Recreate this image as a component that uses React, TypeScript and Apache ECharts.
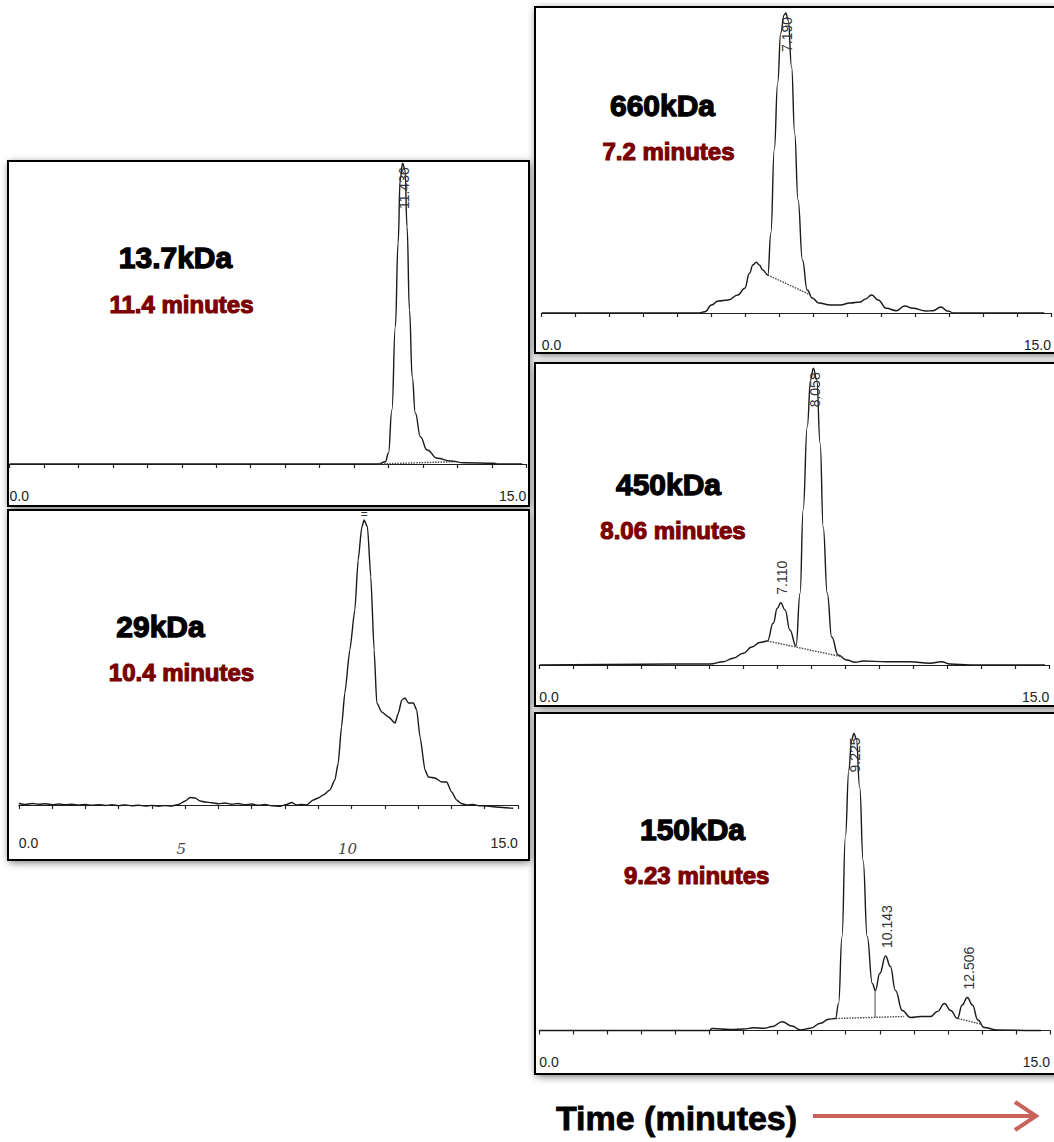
import React, { useEffect, useRef } from "react";
import * as echarts from "echarts";

// ---------------- data (time in minutes, signal in relative absorbance units) ----------------
const trace137: [number, number][] = [
  [0, 0], [10.71, 0], [10.91, 2.3], [11.0, 10.7], [11.1, 54], [11.2, 137], [11.28, 221], [11.34, 284],
  [11.41, 300.7], [11.48, 294], [11.54, 237], [11.61, 154], [11.69, 87], [11.78, 51], [11.93, 27],
  [12.12, 14], [12.42, 5.7], [12.8, 3], [13.19, 1.3], [14.07, 0.7], [14.17, 0], [14.88, 0],
];
const base137: [number, number][] = [[10.71, 0], [12.9, 2.3]];

const trace29: [number, number][] = [
  [0, 1.5], [0.2, 0.5], [0.4, 1.5], [0.6, 0.8], [0.8, 1.2], [1.0, 0.3], [1.2, 1.0], [1.4, 0.2], [1.6, 0.8],
  [1.8, -0.2], [2.0, 0.6], [2.2, -0.3], [2.4, 0.4], [2.6, -0.5], [2.8, 0.2], [3.0, -0.6], [3.2, 0], [3.4, -0.8],
  [3.6, -0.2], [3.8, -1.0], [4.0, -0.4], [4.2, -1.2], [4.4, -0.6], [4.6, -1.0], [4.8, 0.5], [5.0, 4], [5.15, 7.5],
  [5.3, 7], [5.45, 4], [5.6, 3], [5.8, 2.2], [6.0, 1.2], [6.2, 2], [6.4, 0.8], [6.6, 1.5], [6.8, 0.2], [7.0, 1],
  [7.2, -0.3], [7.4, 0.5], [7.6, -0.8], [7.85, -1.2], [8.05, 0.5], [8.2, 2.5], [8.35, 0], [8.5, 0.5], [8.65, 0],
  [8.85, 5], [9.0, 7], [9.15, 10], [9.35, 15], [9.5, 25], [9.6, 41.7], [9.7, 78], [9.8, 112], [9.95, 155],
  [10.1, 195], [10.2, 245], [10.31, 278], [10.38, 285], [10.48, 278], [10.58, 228], [10.68, 155], [10.76, 102],
  [10.91, 93], [11.11, 88], [11.31, 82], [11.41, 92], [11.51, 105], [11.61, 107], [11.71, 102], [11.86, 102],
  [11.96, 95], [12.06, 68], [12.21, 35], [12.31, 28], [12.51, 27], [12.71, 23], [12.86, 23], [13.01, 13],
  [13.16, 5], [13.3, 1.5], [13.46, 0], [13.65, 0.5], [13.85, -0.8], [14.06, -1], [14.25, -1.8], [14.45, -2.2],
  [14.65, -2.8], [14.86, -3.3],
];

const trace660: [number, number][] = [
  [0, 0], [4.61, 0], [4.81, 1.3], [5.0, 8], [5.2, 12], [5.49, 13], [5.78, 18], [5.98, 24.7], [6.12, 39.7],
  [6.22, 48], [6.32, 50.7], [6.41, 48], [6.51, 43], [6.66, 38], [6.75, 80], [6.85, 163], [6.95, 230],
  [7.04, 280], [7.14, 298], [7.19, 300], [7.26, 293], [7.36, 246], [7.45, 180], [7.55, 113], [7.68, 53],
  [7.82, 23], [7.97, 15], [8.16, 10], [8.5, 8], [8.79, 8], [9.08, 10], [9.38, 11], [9.52, 13.7], [9.72, 18],
  [9.91, 13], [10.15, 4.7], [10.45, 2.3], [10.69, 7], [10.93, 4.7], [11.32, 2], [11.52, 2.3], [11.76, 6],
  [11.95, 2], [12.15, 0], [14.8, 0],
];
const base660: [number, number][] = [[6.66, 38], [7.92, 18]];

const trace450: [number, number][] = [
  [0, 0], [5.02, 1], [5.41, 3.3], [5.7, 6.7], [6.0, 11.7], [6.25, 18], [6.49, 22.5], [6.71, 24], [6.88, 41.7],
  [7.0, 56.7], [7.1, 62.3], [7.23, 55], [7.37, 35], [7.55, 19], [7.67, 71.7], [7.76, 155], [7.88, 238],
  [7.98, 285], [8.06, 296.7], [8.16, 285], [8.26, 221.7], [8.35, 138], [8.47, 71.7], [8.6, 28], [8.79, 10],
  [9.04, 5], [9.29, 2.7], [9.53, 4], [10.22, 3.3], [10.9, 3.3], [11.49, 1.7], [11.83, 3.3], [12.08, 1],
  [12.67, 0], [14.87, 0],
];
const base450: [number, number][] = [[6.71, 24], [8.89, 8.3]];

const trace150: [number, number][] = [
  [0, 0], [5.0, 0], [5.07, 2], [5.61, 1], [6.0, 1.5], [6.3, 2.7], [6.6, 2.2], [6.85, 4], [7.13, 8.8],
  [7.42, 4.5], [7.67, 0.5], [7.96, 2.2], [8.26, 7.2], [8.5, 11.2], [8.7, 12], [8.79, 27], [8.89, 93.8],
  [8.99, 193.8], [9.09, 260], [9.17, 290], [9.24, 297], [9.31, 292], [9.41, 243], [9.51, 170], [9.63, 94],
  [9.78, 47], [9.87, 40], [10.0, 57], [10.17, 74.5], [10.31, 64], [10.46, 40], [10.66, 20], [10.9, 13],
  [11.2, 14], [11.49, 14], [11.69, 19], [11.9, 27], [12.08, 20], [12.28, 12], [12.42, 25.5], [12.57, 33],
  [12.72, 25.5], [12.88, 10.5], [13.06, 3], [13.45, 0.5], [14.53, 0], [14.73, 0],
];
const base150a: [number, number][] = [[8.71, 12], [10.71, 14]];
const drop150: [number, number][] = [[9.86, 40], [9.86, 13.15]];
const base150b: [number, number][] = [[12.3, 12], [12.96, 6.5]];

// peak retention-time tags
const tags137 = [{ t: 11.41, text: "11.436", inside: true }];
const tags29 = [{ t: 10.38, text: "=", inside: false }];
const tags660 = [{ t: 7.19, text: "7.190", inside: true }];
const tags450 = [
  { t: 7.1, text: "7.110", inside: false },
  { t: 8.06, text: "8.058", inside: true },
];
const tags150 = [
  { t: 9.24, text: "9.225", inside: true },
  { t: 10.17, text: "10.143", inside: false },
  { t: 12.57, text: "12.506", inside: false },
];

const massLabels = ["13.7kDa", "29kDa", "660kDa", "450kDa", "150kDa"];
const timeLabels = ["11.4 minutes", "10.4 minutes", "7.2 minutes", "8.06 minutes", "9.23 minutes"];
const xTickLabels: Record<number, string> = { 0: "0.0", 15: "15.0" };
const handTicks = [{ t: 5, text: "5" }, { t: 10, text: "10" }];

// ---------------- layout (pixels) ----------------
const PANELS = [
  { box: [8, 161, 521, 345], x0: 9.5, sp: 34.45, top: 162, baseY: 464, axisY: 481.5, title: [175.5, 257], rt: [181.5, 304] },
  { box: [8, 510, 521, 350], x0: 18.8, sp: 33.27, top: 512, baseY: 805, axisY: 829, title: [160.5, 626], rt: [181.5, 672] },
  { box: [535, 7, 530, 346], x0: 541.7, sp: 34.3, top: 9, baseY: 313, axisY: 331, title: [662.5, 105], rt: [668.5, 151] },
  { box: [535, 363, 530, 343], x0: 539.3, sp: 34.0, top: 365, baseY: 665, axisY: 683.3, title: [668.5, 484], rt: [673, 530] },
  { box: [535, 713, 530, 361], x0: 539.3, sp: 34.05, top: 715, baseY: 1030.5, axisY: 1047.7, title: [692.5, 829], rt: [696.7, 875] },
];
const TRACES = [trace137, trace29, trace660, trace450, trace150];
const EXTRAS: { data: [number, number][]; dashed: boolean }[][] = [
  [{ data: base137, dashed: true }],
  [],
  [{ data: base660, dashed: true }],
  [{ data: base450, dashed: true }],
  [{ data: base150a, dashed: true }, { data: drop150, dashed: false }, { data: base150b, dashed: true }],
];
const TAGS = [tags137, tags29, tags660, tags450, tags150];

const FONT = '"Liberation Sans", Arial, sans-serif';

function buildOption() {
  const grid = PANELS.map((p) => ({
    left: p.x0,
    top: p.top,
    width: p.sp * 15,
    height: p.axisY - p.top,
    containLabel: false,
  }));
  const xAxis = PANELS.map((_, i) => ({
    gridIndex: i,
    type: "value",
    min: 0,
    max: 15,
    interval: 1,
    axisLine: { show: true, lineStyle: { color: "#222", width: 1.2 } },
    axisTick: { show: true, length: 4, lineStyle: { color: "#222", width: 1.2 } },
    splitLine: { show: false },
    axisLabel: {
      show: true,
      fontSize: 14,
      fontFamily: FONT,
      color: "#222",
      margin: 7,
      showMinLabel: true,
      showMaxLabel: true,
      alignMinLabel: "left",
      alignMaxLabel: "right",
      formatter: (v: number) => xTickLabels[v] ?? "",
    },
  }));
  const yAxis = PANELS.map((p, i) => ({
    gridIndex: i,
    type: "value",
    min: -(p.axisY - p.baseY),
    max: p.baseY - p.top,
    show: false,
  }));
  const series: any[] = [];
  TRACES.forEach((tr, i) => {
    series.push({
      type: "line",
      xAxisIndex: i,
      yAxisIndex: i,
      data: tr,
      symbol: "none",
      showSymbol: false,
      smooth: i === 1 ? 0.2 : 0.45,
      smoothMonotone: "x",
      lineStyle: { color: "#1a1a1a", width: 1.4 },
      silent: true,
      z: 3,
    });
    EXTRAS[i].forEach((ex) => {
      series.push({
        type: "line",
        xAxisIndex: i,
        yAxisIndex: i,
        data: ex.data,
        symbol: "none",
        showSymbol: false,
        lineStyle: { color: "#444", width: ex.dashed ? 1.4 : 1, type: ex.dashed ? [1.5, 1.2] : "solid" },
        silent: true,
        z: 3,
      });
    });
  });
  return { animation: false, backgroundColor: "#fff", grid, xAxis, yAxis, series };
}

function buildGraphics(chart: any) {
  const els: any[] = [];
  PANELS.forEach((p, i) => {
    const [bx, by, bw, bh] = p.box;
    els.push({
      type: "rect",
      shape: { x: bx, y: by, width: bw, height: bh },
      style: { fill: "#fff", shadowBlur: 8, shadowColor: "rgba(0,0,0,0.6)", shadowOffsetX: 1, shadowOffsetY: 2 },
      z: -10,
      silent: true,
    });
    els.push({
      type: "rect",
      shape: { x: bx, y: by, width: bw, height: bh },
      style: { fill: "none", stroke: "#000", lineWidth: 2 },
      z: 50,
      silent: true,
    });
    els.push({
      type: "text",
      x: p.title[0],
      y: p.title[1],
      style: {
        text: massLabels[i],
        fill: "#000",
        stroke: "#000",
        lineWidth: 1.3,
        fontSize: 30,
        fontWeight: "bold",
        fontFamily: FONT,
        align: "center",
        verticalAlign: "middle",
      },
      z: 60,
    });
    els.push({
      type: "text",
      x: p.rt[0],
      y: p.rt[1],
      style: {
        text: timeLabels[i],
        fill: "#7b0000",
        stroke: "#7b0000",
        lineWidth: 1.1,
        fontSize: 24,
        fontWeight: "bold",
        fontFamily: FONT,
        align: "center",
        verticalAlign: "middle",
      },
      z: 60,
    });
    const tr = TRACES[i];
    TAGS[i].forEach((tag) => {
      let best = tr[0];
      tr.forEach((pt) => {
        if (Math.abs(pt[0] - tag.t) < Math.abs(best[0] - tag.t)) best = pt;
      });
      const px = chart.convertToPixel({ gridIndex: i }, best);
      if (tag.text === "=") {
        els.push({
          type: "text",
          x: px[0],
          y: px[1] - 6,
          style: { text: "=", fill: "#333", fontSize: 12, fontFamily: FONT, align: "center", verticalAlign: "middle" },
          z: 60,
        });
        return;
      }
      els.push({
        type: "text",
        x: px[0] + 1.5,
        y: tag.inside ? px[1] + 4 : px[1] - 8,
        rotation: Math.PI / 2,
        style: {
          text: tag.text,
          fill: "#333",
          fontSize: 14,
          fontFamily: FONT,
          align: tag.inside ? "right" : "left",
          verticalAlign: "middle",
        },
        z: 60,
      });
    });
  });
  // handwritten tick numbers on the 29 kDa trace
  handTicks.forEach((h) => {
    const px = chart.convertToPixel({ gridIndex: 1 }, [h.t, 0]);
    els.push({
      type: "text",
      x: px[0] - 4,
      y: PANELS[1].axisY + 20,
      style: {
        text: h.text,
        fill: "#444",
        fontSize: 15,
        fontStyle: "italic",
        fontFamily: '"DejaVu Serif", serif',
        align: "center",
        verticalAlign: "middle",
      },
      z: 60,
    });
  });
  // axis caption and arrow
  els.push({
    type: "text",
    x: 676.5,
    y: 1118,
    style: {
      text: "Time (minutes)",
      fill: "#000",
      stroke: "#000",
      lineWidth: 0.8,
      fontSize: 34,
      fontWeight: "bold",
      fontFamily: FONT,
      align: "center",
      verticalAlign: "middle",
    },
    z: 60,
  });
  els.push({
    type: "line",
    shape: { x1: 813, y1: 1116, x2: 1034, y2: 1116 },
    style: { stroke: "#c9625c", lineWidth: 4 },
    z: 60,
  });
  els.push({
    type: "polyline",
    shape: { points: [[1015, 1102], [1036, 1116], [1015, 1130]] },
    style: { stroke: "#c9625c", lineWidth: 4, fill: "none", lineJoin: "miter" },
    z: 60,
  });
  return els;
}

export default function App() {
  const ref = useRef<HTMLDivElement>(null);
  useEffect(() => {
    const el = ref.current;
    if (!el) return;
    const chart = echarts.init(el, null, { renderer: "svg", width: 1054, height: 1142 });
    chart.setOption(buildOption() as any);
    chart.setOption({ graphic: { elements: buildGraphics(chart) } } as any);
    return () => chart.dispose();
  }, []);
  return (
    <div
      ref={ref}
      style={{ position: "absolute", left: 0, top: 0, width: 1054, height: 1142, background: "#fff" }}
    />
  );
}
